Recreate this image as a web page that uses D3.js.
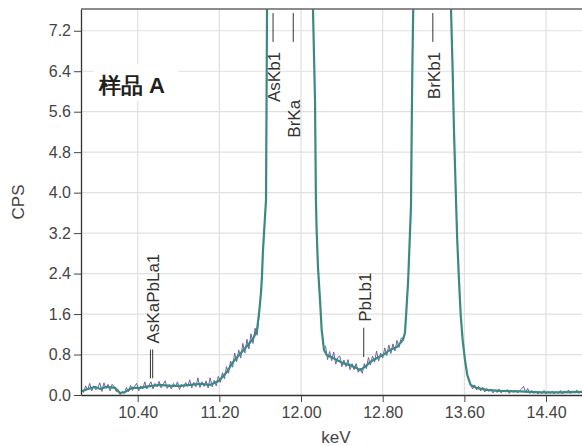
<!DOCTYPE html>
<html lang="zh">
	<head>
		<meta charset="utf-8">
		<title>样品 A</title>
		<script type="text/javascript" src="https://cdn.jsdelivr.net/npm/d3@7"></script>
		<style type="text/css">
			body { margin: 0; background: #fff; }
			text { font-family: "Liberation Sans", Arial, sans-serif; }
		</style>
	</head>
	<body>
		<script type="text/javascript">

			var w = 582;
			var h = 446;
			var plotLeft = 81, plotRight = 582, plotTop = 9, plotBottom = 395;

			// axis ticks
			var xTicks = [10.40, 11.20, 12.00, 12.80, 13.60, 14.40];
			var yTicks = [0, 0.8, 1.6, 2.4, 3.2, 4.0, 4.8, 5.6, 6.4, 7.2];

			// smoothed spectrum (keV, CPS) - peaks run off the top
			var smoothKeV = [9.845, 9.913, 9.982, 10.031, 10.090, 10.178, 10.227, 10.276, 10.344, 10.423,
				10.501, 10.618, 10.716, 10.814, 10.912, 11.010, 11.108, 11.196, 11.275, 11.333,
				11.402, 11.471, 11.529, 11.568, 11.588, 11.608, 11.617, 11.627, 11.637, 11.647,
				11.657, 11.662, 11.667, 11.70, 11.82, 11.92, 12.02, 12.09,
				12.117, 12.137, 12.146, 12.153, 12.166, 12.186, 12.202, 12.225, 12.251, 12.283,
				12.352, 12.411, 12.479, 12.548, 12.577, 12.607, 12.646, 12.675, 12.744, 12.803,
				12.871, 12.940, 12.998, 13.018, 13.028, 13.038, 13.048, 13.057, 13.067, 13.077,
				13.084, 13.090, 13.099, 13.14, 13.29, 13.43,
				13.469, 13.485, 13.498, 13.518, 13.530, 13.547, 13.564, 13.583, 13.606, 13.628,
				13.661, 13.720, 13.818, 13.948, 14.144, 14.340, 14.536, 14.752];
			var smoothCps = [0.07, 0.12, 0.16, 0.12, 0.16, 0.14, 0.04, 0.06, 0.14, 0.14,
				0.17, 0.20, 0.18, 0.18, 0.20, 0.22, 0.20, 0.28, 0.46, 0.65,
				0.81, 0.97, 1.11, 1.27, 1.60, 2.02, 2.33, 2.83, 3.18, 3.52,
				3.85, 5.65, 7.63, 14, 22, 26, 20, 12,
				7.63, 5.83, 3.85, 3.26, 2.53, 1.88, 1.29, 0.89, 0.79, 0.76,
				0.69, 0.63, 0.59, 0.53, 0.49, 0.53, 0.59, 0.65, 0.73, 0.79,
				0.89, 0.95, 1.09, 1.23, 1.54, 1.88, 2.21, 2.67, 3.20, 3.72,
				5.24, 6.42, 7.63, 14, 24, 13,
				7.63, 6.42, 5.24, 3.85, 3.06, 2.27, 1.58, 1.09, 0.69, 0.40,
				0.20, 0.14, 0.10, 0.08, 0.07, 0.05, 0.05, 0.06];

			// raw counts, only the stretches that show beside the smoothed line
			var rawLow = [[9.85,.10],[9.87,.05],[9.89,.18],[9.91,.10],[9.93,.23],[9.95,.08],[9.97,.18],[9.99,.10],
				[10.01,.15],[10.03,.24],[10.05,.07],[10.07,.24],[10.09,.13],[10.11,.21],[10.13,.08],[10.15,.21],
				[10.17,.16],[10.19,.07],[10.21,.10],[10.23,.01],[10.25,.07],[10.27,.03],[10.29,.15],[10.31,.06],
				[10.33,.19],[10.35,.09],[10.37,.17],[10.39,.23],[10.41,.08],[10.43,.18],[10.45,.12],[10.47,.26],
				[10.49,.12],[10.51,.19],[10.53,.26],[10.55,.12],[10.57,.23],[10.59,.16],[10.61,.27],[10.63,.14],
				[10.65,.21],[10.67,.28],[10.69,.13],[10.71,.21],[10.73,.12],[10.75,.23],[10.77,.16],[10.79,.26],
				[10.81,.11],[10.83,.21],[10.85,.15],[10.87,.25],[10.89,.17],[10.91,.30],[10.93,.14],[10.95,.25],
				[10.97,.16],[10.99,.34],[11.01,.15],[11.03,.26],[11.05,.17],[11.07,.28],[11.09,.14],[11.11,.34],
				[11.13,.16],[11.15,.29],[11.17,.18],[11.19,.37],[11.21,.25],[11.23,.44],[11.25,.32],[11.27,.56],
				[11.29,.43],[11.31,.67],[11.33,.55],[11.35,.83],[11.37,.66],[11.39,.89],[11.41,.73],[11.43,1.02],
				[11.45,.83],[11.47,1.10],[11.49,.91],[11.51,1.21],[11.53,1.02],[11.55,1.32],[11.57,1.18],[11.59,1.60]];
			var rawValley = [[12.24,.97],[12.26,.70],[12.28,.86],[12.30,.68],[12.32,.85],[12.34,.61],[12.36,.74],
				[12.38,.77],[12.40,.56],[12.42,.69],[12.44,.56],[12.46,.70],[12.48,.50],[12.50,.62],[12.52,.50],
				[12.54,.62],[12.56,.45],[12.58,.53],[12.60,.43],[12.62,.62],[12.64,.52],[12.66,.74],[12.68,.59],
				[12.70,.77],[12.72,.65],[12.74,.87],[12.76,.67],[12.78,.83],[12.80,.73],[12.82,.93],[12.84,.78],
				[12.86,.99],[12.88,.82],[12.90,1.01],[12.92,.87],[12.94,1.08],[12.96,.94],[12.98,1.12],[13.00,1.12]];
			var rawTail = [[13.62,.50],[13.64,.30],[13.66,.22],[13.68,.12],[13.70,.20],[13.72,.10],[13.74,.17],
				[13.76,.08],[13.78,.15],[13.80,.06],[13.82,.13],[13.84,.07],[13.86,.12],[13.88,.04],[13.90,.10],
				[13.92,.05],[13.94,.12],[13.96,.04],[13.98,.09],[14.00,.06],[14.02,.11],[14.04,.03],[14.06,.09],
				[14.08,.05],[14.10,.10],[14.12,.04],[14.14,.08],[14.16,.12],[14.18,.17],[14.20,.05],[14.22,.13],
				[14.24,.03],[14.26,.09],[14.28,.03],[14.30,.08],[14.32,.02],[14.34,.07],[14.36,.03],[14.38,.09],
				[14.40,.02],[14.42,.07],[14.44,.03],[14.46,.08],[14.48,.02],[14.50,.07],[14.52,.03],[14.54,.09],
				[14.56,.02],[14.58,.08],[14.60,.04],[14.62,.10],[14.64,.03],[14.66,.08],[14.68,.04],[14.70,.10],
				[14.72,.03],[14.74,.08]];

			// element line markers
			var peakNames = ["AsKaPbLa1", "AsKb1", "BrKa", "PbLb1", "BrKb1"];
			var peakKeV = [[10.525, 10.547], [11.726], [11.924], [12.614], [13.291]];
			var markerLo = [0.33, 6.98, 6.98, 0.75, 6.98];
			var markerHi = [0.90, 7.55, 7.55, 1.33, 7.55];
			var labelStep = [0, 0, 1, 0, 0];

			var xScale = d3.scaleLinear()
						   .domain([9.845, 14.752])
						   .range([plotLeft, plotRight]);

			var yScale = d3.scaleLinear()
						   .domain([0, 7.63])
						   .range([plotBottom, plotTop]);

			var svg = d3.select("body")
						.append("svg")
						.attr("width", w)
						.attr("height", h);

			svg.append("defs")
			   .append("clipPath")
			   .attr("id", "plot")
			   .append("rect")
			   .attr("x", plotLeft)
			   .attr("y", plotTop)
			   .attr("width", plotRight - plotLeft)
			   .attr("height", plotBottom - plotTop);

			// grid
			svg.selectAll("line.hgrid")
			   .data(yTicks.slice(1))
			   .enter()
			   .append("line")
			   .attr("class", "hgrid")
			   .attr("x1", plotLeft)
			   .attr("x2", plotRight)
			   .attr("y1", function(d) { return yScale(d); })
			   .attr("y2", function(d) { return yScale(d); })
			   .attr("stroke", "#e3dfdf")
			   .attr("stroke-width", 1.2);

			svg.selectAll("line.vgrid")
			   .data(xTicks)
			   .enter()
			   .append("line")
			   .attr("class", "vgrid")
			   .attr("x1", function(d) { return xScale(d); })
			   .attr("x2", function(d) { return xScale(d); })
			   .attr("y1", plotTop)
			   .attr("y2", plotBottom)
			   .attr("stroke", "#e3dfdf")
			   .attr("stroke-width", 1.2);

			// sample name box
			svg.append("rect")
			   .attr("x", 94)
			   .attr("y", 64)
			   .attr("width", 84)
			   .attr("height", 37)
			   .attr("fill", "#fff");

			svg.append("text")
			   .text("样品 A")
			   .attr("x", 99)
			   .attr("y", 93)
			   .attr("font-family", "'Noto Sans CJK SC', sans-serif")
			   .attr("font-weight", "bold")
			   .attr("font-size", "22px")
			   .attr("fill", "#231f20");

			// spectrum
			var line = d3.line()
						 .x(function(d) { return xScale(d[0]); })
						 .y(function(d) { return yScale(d[1]); });

			var plotG = svg.append("g").attr("clip-path", "url(#plot)");

			plotG.selectAll("path.raw")
				 .data([rawLow, rawValley, rawTail])
				 .enter()
				 .append("path")
				 .attr("class", "raw")
				 .attr("d", line)
				 .attr("fill", "none")
				 .attr("stroke", "#6c61ab")
				 .attr("stroke-width", 1);

			var smooth = smoothKeV.map(function(k, i) { return [k, smoothCps[i]]; });

			plotG.append("path")
				 .datum(smooth)
				 .attr("d", line)
				 .attr("fill", "none")
				 .attr("stroke", "#3b8a80")
				 .attr("stroke-width", 2.2);

			// axes
			var yAxis = d3.axisLeft(yScale)
						  .tickValues(yTicks)
						  .tickFormat(d3.format(".1f"))
						  .tickSize(7)
						  .tickSizeOuter(0)
						  .tickPadding(3);

			var xAxis = d3.axisBottom(xScale)
						  .tickValues(xTicks)
						  .tickFormat(d3.format(".2f"))
						  .tickSize(7)
						  .tickSizeOuter(0)
						  .tickPadding(5);

			var gy = svg.append("g")
						.attr("transform", "translate(" + plotLeft + ",0)")
						.call(yAxis);

			var gx = svg.append("g")
						.attr("transform", "translate(0," + plotBottom + ")")
						.call(xAxis);

			[gx, gy].forEach(function(g) {
				g.select(".domain").attr("stroke", "#333").attr("stroke-width", 1.3);
				g.selectAll(".tick line").attr("stroke", "#444");
				g.selectAll(".tick text")
				 .attr("font-family", "'Liberation Sans', Arial, sans-serif")
				 .attr("font-size", "16px")
				 .attr("fill", "#444");
			});

			svg.append("line")
			   .attr("x1", plotLeft)
			   .attr("x2", plotRight)
			   .attr("y1", plotTop)
			   .attr("y2", plotTop)
			   .attr("stroke", "#666")
			   .attr("stroke-width", 1.3);

			svg.append("text")
			   .text("CPS")
			   .attr("transform", "translate(24,202) rotate(-90)")
			   .attr("text-anchor", "middle")
			   .attr("font-size", "17px")
			   .attr("fill", "#444");

			svg.append("text")
			   .text("keV")
			   .attr("x", 336)
			   .attr("y", 443)
			   .attr("text-anchor", "middle")
			   .attr("font-size", "17px")
			   .attr("fill", "#444");

			// element markers and labels
			peakNames.forEach(function(name, i) {
				peakKeV[i].forEach(function(k) {
					svg.append("line")
					   .attr("x1", xScale(k))
					   .attr("x2", xScale(k))
					   .attr("y1", yScale(markerLo[i]))
					   .attr("y2", yScale(markerHi[i]))
					   .attr("stroke", "#333")
					   .attr("stroke-width", 1);
				});

				var cx = d3.mean(peakKeV[i], function(k) { return xScale(k); }) + 1;
				var top = markerLo[i] > 4;
				var ty = top ? yScale(markerLo[i]) + 10 + labelStep[i] * 48
							 : yScale(markerHi[i]) - 6;

				svg.append("text")
				   .text(name)
				   .attr("transform", "translate(" + cx + "," + ty + ") rotate(-90)")
				   .attr("dy", "0.36em")
				   .attr("text-anchor", top ? "end" : "start")
				   .attr("font-size", "17px")
				   .attr("fill", "#333");
			});

		</script>
	</body>
</html>
